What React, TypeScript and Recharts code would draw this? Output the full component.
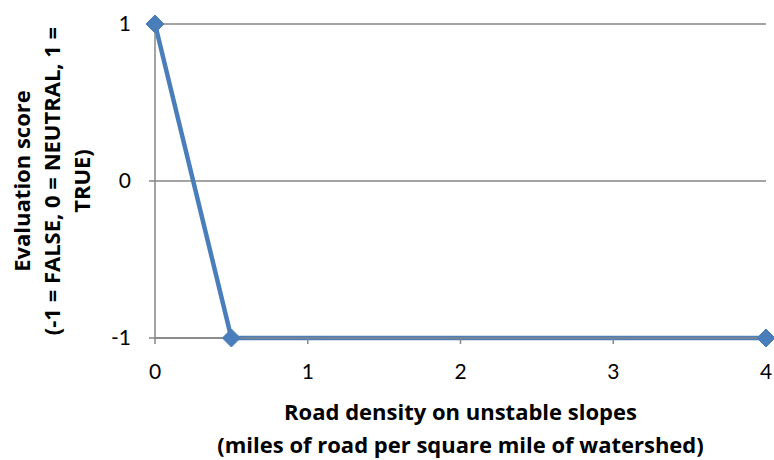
import React from 'react';
import { LineChart, Line, XAxis, YAxis, CartesianGrid } from 'recharts';

// Road density (mi/mi²) vs. evaluation score
const density = [0, 0.5, 4];
const score = [1, -1, -1];
const xTicks = [0, 1, 2, 3, 4];
const yTicks = [-1, 0, 1];

const xTitle = ['Road density on unstable slopes', '(miles of road per square mile of watershed)'];
const yTitle = ['Evaluation score', '(-1 = FALSE, 0 = NEUTRAL, 1 =', 'TRUE)'];

const data = density.map((d, i) => ({ density: d, score: score[i] }));

const FONT = 'Lato, "Liberation Sans", sans-serif';
const TITLE_FONT = '"Open Sans", "Liberation Sans", sans-serif';
const AXIS = '#868686';
const BLUE = '#4a7ebb';

const Diamond = (props: any) => {
  const { cx, cy } = props;
  if (cx == null || cy == null) return null;
  const r = 9;
  return (
    <path
      d={`M${cx},${cy - r} L${cx + r},${cy} L${cx},${cy + r} L${cx - r},${cy} Z`}
      fill={BLUE}
      stroke={BLUE}
    />
  );
};

const XTitle = (props: any) => {
  const { viewBox } = props;
  const cx = viewBox.x + viewBox.width / 2;
  return (
    <text textAnchor="middle" fontFamily={TITLE_FONT} fontWeight={700} fontSize={22} fill="#000">
      <tspan x={cx} y={viewBox.y + 82}>{xTitle[0]}</tspan>
      <tspan x={cx} y={viewBox.y + 115}>{xTitle[1]}</tspan>
    </text>
  );
};

const YTitle = (props: any) => {
  const { viewBox } = props;
  const cy = viewBox.y + viewBox.height / 2;
  const xs = [30, 60, 90];
  return (
    <g>
      {yTitle.map((t, i) => (
        <text
          key={i}
          x={xs[i]}
          y={cy}
          transform={`rotate(-90 ${xs[i]} ${cy})`}
          textAnchor="middle"
          fontFamily={TITLE_FONT}
          fontWeight={700}
          fontSize={22}
          fill="#000"
        >
          {t}
        </text>
      ))}
    </g>
  );
};

export default function App() {
  return (
    <div style={{ position: 'absolute', left: 0, top: 0, background: '#fff' }}>
      <LineChart width={774} height={460} data={data} margin={{ top: 24, right: 8, bottom: 62, left: 0 }}>
        <CartesianGrid vertical={false} stroke={AXIS} strokeWidth={1.5} />
        <XAxis
          dataKey="density"
          type="number"
          domain={[0, 4]}
          ticks={xTicks}
          height={60}
          stroke={AXIS}
          strokeWidth={1.5}
          tickSize={6}
          tickMargin={20}
          tick={{ fill: '#000', fontSize: 21, fontFamily: FONT }}
          label={<XTitle />}
        />
        <YAxis
          type="number"
          domain={[-1, 1]}
          ticks={yTicks}
          width={155}
          stroke={AXIS}
          strokeWidth={1.5}
          tickSize={6}
          tickMargin={18}
          tick={{ fill: '#000', fontSize: 21, fontFamily: FONT }}
          label={<YTitle />}
        />
        <Line
          dataKey="score"
          stroke={BLUE}
          strokeWidth={4.5}
          dot={<Diamond />}
          activeDot={false}
          isAnimationActive={false}
        />
      </LineChart>
    </div>
  );
}
